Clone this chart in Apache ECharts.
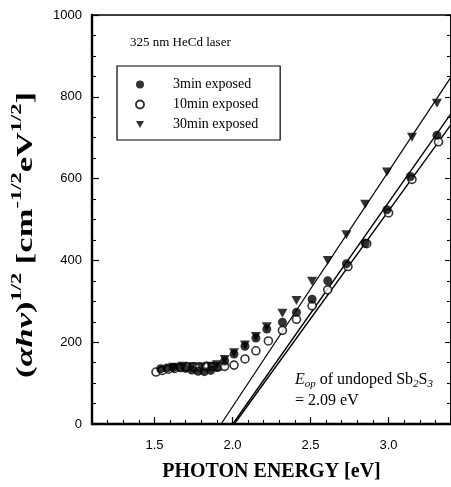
<!DOCTYPE html>
<html>
<head>
<meta charset="utf-8">
<script src="https://cdn.jsdelivr.net/npm/echarts@6/dist/echarts.min.js"></script>
<style>
html,body{margin:0;padding:0;background:#fff;}
#c{width:451px;height:487px;}
</style>
</head>
<body>
<div id="c"></div>
<script>
// ---- data ----
const seriesNames = ['3min exposed', '10min exposed', '30min exposed'];

const energy3 = [1.54, 1.58, 1.62, 1.66, 1.70, 1.74, 1.78, 1.82, 1.86, 1.90, 1.95, 2.01, 2.08, 2.15, 2.22, 2.32, 2.41, 2.51, 2.61, 2.73, 2.85, 2.99, 3.14, 3.31];
const value3  = [135, 137, 138, 139, 136, 132, 129, 128, 131, 138, 154, 171, 190, 210, 232, 249, 273, 305, 350, 392, 442, 524, 605, 706];

const energy10 = [1.51, 1.55, 1.59, 1.63, 1.67, 1.71, 1.75, 1.79, 1.83, 1.87, 1.91, 1.95, 2.01, 2.08, 2.15, 2.23, 2.32, 2.41, 2.51, 2.61, 2.74, 2.86, 3.00, 3.15, 3.32];
const value10  = [127, 131, 134, 136, 138, 139, 140, 140, 141, 140, 140, 141, 144, 159, 179, 203, 229, 256, 289, 328, 385, 441, 516, 598, 690];

const energy30 = [1.62, 1.68, 1.74, 1.80, 1.86, 1.90, 1.95, 2.01, 2.08, 2.15, 2.22, 2.32, 2.41, 2.51, 2.61, 2.73, 2.85, 2.99, 3.15, 3.31];
const value30  = [139, 141, 140, 139, 141, 145, 158, 174, 193, 214, 238, 271, 302, 349, 400, 463, 537, 616, 701, 784];

// linear fits drawn in the figure (end points)
const fitEnergy3 = [2.002, 3.40];  const fitValue3 = [0, 759];
const fitEnergy10 = [2.012, 3.40]; const fitValue10 = [0, 732];
const fitEnergy30 = [1.927, 3.40]; const fitValue30 = [0, 848];

const xMajorTicks = [1.5, 2.0, 2.5, 3.0];

// ---- helpers ----
const zip = (xs, ys) => xs.map((x, i) => [x, ys[i]]);
const SERIF = '"Liberation Serif", "DejaVu Serif", serif';
const SANS = '"Liberation Sans", Arial, sans-serif';
const downTri = 'path://M0,0 L10,0 L5,8.7 Z';

const chart = echarts.init(document.getElementById('c'), null, {renderer: 'canvas'});

const fitLine = (xs, ys, w) => ({
  type: 'line', data: zip(xs, ys), symbol: 'none', silent: true,
  lineStyle: {color: '#000', width: w}, z: 1, animation: false
});

const option = {
  animation: false,
  backgroundColor: '#fff',
  grid: {left: 92, right: -1, top: 15, bottom: 62, show: true, borderColor: '#000', borderWidth: 1.5, backgroundColor: 'transparent'},
  legend: {
    data: seriesNames,
    left: 117, top: 66,
    orient: 'vertical',
    itemWidth: 8, itemHeight: 8, itemGap: 5,
    padding: [11, 22, 8, 18],
    borderColor: '#000', borderWidth: 1.2,
    textStyle: {fontFamily: SERIF, fontSize: 14, color: '#000', padding: [0, 0, 0, 24], lineHeight: 15},
    selectedMode: false
  },
  xAxis: [{
    type: 'value', min: 1.1, max: 3.4, position: 'bottom',
    axisLine: {show: true, onZero: false, lineStyle: {color: '#000', width: 2.4}},
    axisTick: {show: true, inside: true, length: 7, customValues: xMajorTicks, lineStyle: {color: '#000', width: 1.2}},
    axisLabel: {customValues: xMajorTicks, formatter: v => v.toFixed(1), fontFamily: SANS, fontSize: 13, color: '#000', margin: 15},
    splitLine: {show: false},
    name: 'PHOTON ENERGY [eV]', nameLocation: 'middle', nameGap: 38,
    nameTextStyle: {fontFamily: SERIF, fontWeight: 'bold', fontSize: 20, color: '#000'}
  }, {
    type: 'value', min: 1.1, max: 3.4, interval: 0.1, position: 'bottom',
    axisLine: {show: false}, axisLabel: {show: false}, splitLine: {show: false},
    axisTick: {show: true, inside: true, length: 4, lineStyle: {color: '#000', width: 1.1}}
  }],
  yAxis: [{
    type: 'value', min: 0, max: 1000, interval: 200, position: 'left',
    axisLine: {show: true, onZero: false, lineStyle: {color: '#000', width: 2.4}},
    axisTick: {show: true, inside: true, length: 7, lineStyle: {color: '#000', width: 1.2}},
    minorTick: {show: true, splitNumber: 4, length: 4, lineStyle: {color: '#000', width: 1.1}},
    axisLabel: {formatter: v => String(v), fontFamily: SANS, fontSize: 13, color: '#000', margin: 10},
    splitLine: {show: false}
  }, {
    type: 'value', min: 0, max: 1000, interval: 200, position: 'right',
    axisLine: {show: true, lineStyle: {color: '#000', width: 1.5}},
    axisTick: {show: true, inside: true, length: 6, lineStyle: {color: '#000', width: 1.1}},
    minorTick: {show: true, splitNumber: 4, length: 4, lineStyle: {color: '#000', width: 1.1}},
    axisLabel: {show: false}, splitLine: {show: false}
  }],
  series: [
    fitLine(fitEnergy30, fitValue30, 1.2),
    fitLine(fitEnergy3, fitValue3, 1.4),
    fitLine(fitEnergy10, fitValue10, 1.4),
    {
      name: seriesNames[1], type: 'scatter', data: zip(energy10, value10),
      symbol: 'circle', symbolSize: 8, z: 3,
      itemStyle: {color: '#fff', borderColor: '#000', borderWidth: 1.6}
    },
    {
      name: seriesNames[0], type: 'scatter', data: zip(energy3, value3),
      symbol: 'circle', symbolSize: 9, z: 4,
      itemStyle: {color: '#000', borderColor: '#000', borderWidth: 0}
    },
    {
      name: seriesNames[2], type: 'scatter', data: zip(energy30, value30),
      symbol: downTri, symbolSize: [10, 9], z: 5,
      itemStyle: {color: '#000'}
    }
  ],
  graphic: [
    {
      type: 'text', x: 130, y: 43,
      style: {text: '325 nm HeCd laser', font: '13px ' + SERIF, fill: '#000', verticalAlign: 'middle'}
    },
    {
      type: 'text', x: 295, y: 369,
      style: {
        text: '{e|E}{sub|op}{n| of undoped Sb}{sub|2}{n|S}{sub|3}\n{n|= 2.09 eV}',
        fill: '#000',
        rich: {
          e: {fontFamily: SERIF, fontStyle: 'italic', fontSize: 16, lineHeight: 21, verticalAlign: 'middle'},
          n: {fontFamily: SERIF, fontSize: 16, lineHeight: 21, verticalAlign: 'middle'},
          sub: {fontFamily: SERIF, fontStyle: 'italic', fontSize: 11, lineHeight: 11, verticalAlign: 'bottom'}
        }
      }
    },
    {
      type: 'text', x: 24, y: 235, rotation: Math.PI / 2, scaleX: 1.5, scaleY: 1,
      style: {
        text: '{b|(}{bi|αhν}{b|)}{sup|1/2}{b| [cm}{sup|-1/2}{b|eV}{sup|1/2}{b|]}',
        align: 'center', verticalAlign: 'middle', fill: '#000',
        rich: {
          b: {fontFamily: SERIF, fontWeight: 'bold', fontSize: 23, lineHeight: 28, verticalAlign: 'bottom'},
          bi: {fontFamily: SERIF, fontWeight: 'bold', fontStyle: 'italic', fontSize: 23, lineHeight: 28, verticalAlign: 'bottom'},
          sup: {fontFamily: SERIF, fontWeight: 'bold', fontSize: 15, lineHeight: 15, verticalAlign: 'top'}
        }
      }
    }
  ]
};
chart.setOption(option);
</script>
</body>
</html>
